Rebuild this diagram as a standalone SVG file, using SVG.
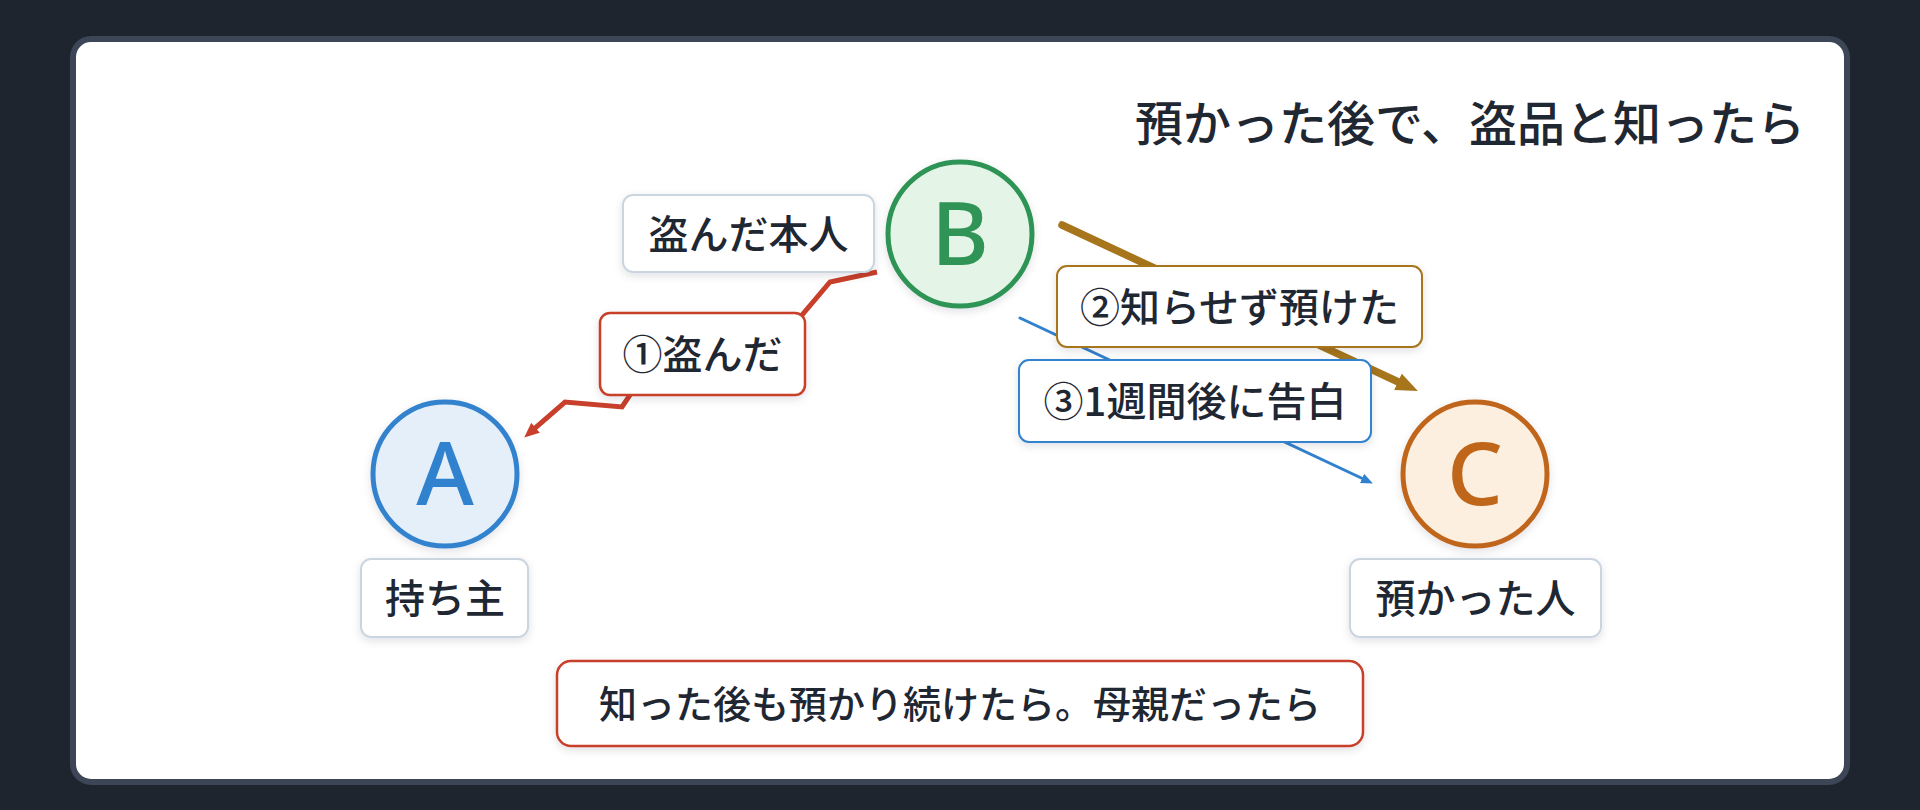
<svg xmlns="http://www.w3.org/2000/svg" width="1920" height="810" viewBox="0 0 1920 810">
  <defs>
    <style>
      .jp { font-family: "Noto Sans CJK JP", "Noto Sans", sans-serif; fill: #1f2733; font-weight: 500; }
      .lbl { font-size: 40px; text-anchor: middle; }
      .big { font-family: "Noto Sans", "Liberation Sans", sans-serif; font-size: 88px; font-weight: 500; text-anchor: middle; }
      .gbox { fill: #ffffff; stroke: #cbd5e0; stroke-width: 2; }
      .rbox { fill: #ffffff; stroke: #c8402b; stroke-width: 2.5; }
      .obox { fill: #ffffff; stroke: #a6751c; stroke-width: 2; }
      .bbox { fill: #ffffff; stroke: #3182ce; stroke-width: 2; }
    </style>
    <filter id="sh" x="-20%" y="-20%" width="140%" height="150%">
      <feDropShadow dx="0" dy="3" stdDeviation="4" flood-color="#1a202c" flood-opacity="0.12"/>
    </filter>
    <marker id="arR" markerUnits="userSpaceOnUse" markerWidth="15" markerHeight="13" refX="6" refY="6.5" orient="auto">
      <path d="M0,0 L15,6.5 L0,13 Z" fill="#c8402b"/>
    </marker>
    <marker id="arG" markerUnits="userSpaceOnUse" markerWidth="22" markerHeight="18" refX="10" refY="9" orient="auto">
      <path d="M0,0 L22,9 L0,18 Z" fill="#a6751c"/>
    </marker>
    <marker id="arB" markerUnits="userSpaceOnUse" markerWidth="12" markerHeight="10" refX="5" refY="5" orient="auto">
      <path d="M0,0 L12,5 L0,10 Z" fill="#3182ce"/>
    </marker>
  </defs>

  <rect x="0" y="0" width="1920" height="810" fill="#1e252f"/>
  <rect x="73" y="39" width="1774" height="743" rx="18" fill="#ffffff" stroke="#3c4656" stroke-width="6"/>

  <text class="jp" x="1805" y="141" font-size="48" text-anchor="end">預かった後で、盗品と知ったら</text>

  <g id="connectors">
    <path id="e-ba" d="M877,272 L830,282 L780,341 L650,365 L622,407 L565,402 L531,431.7" fill="none" stroke="#c8402b" stroke-width="5" stroke-linejoin="miter" marker-end="url(#arR)"/>
    <path id="e-bc2" d="M1062,225 L1407,386" fill="none" stroke="#a6751c" stroke-width="7.5" stroke-linecap="round" marker-end="url(#arG)"/>
    <path id="e-bc3" d="M1020,318 L1366.6,480.5" fill="none" stroke="#3182ce" stroke-width="3" stroke-linecap="round" marker-end="url(#arB)"/>
  </g>

  <g id="node-a">
    <circle cx="445" cy="474" r="72" fill="#e5effa" stroke="#3182ce" stroke-width="5" filter="url(#sh)"/>
    <text class="big" x="445" y="505" fill="#3182ce">A</text>
  </g>
  <g id="node-b">
    <circle cx="960" cy="234" r="72" fill="#e4f5e8" stroke="#2f9455" stroke-width="5" filter="url(#sh)"/>
    <text class="big" x="960" y="265" fill="#2f9455">B</text>
  </g>
  <g id="node-c">
    <circle cx="1475" cy="474" r="72" fill="#fdefdf" stroke="#c0661a" stroke-width="5" filter="url(#sh)"/>
    <text class="big" x="1475" y="505" fill="#c0661a">C</text>
  </g>

  <g id="label-a">
    <rect class="gbox" x="361" y="559" width="167" height="78" rx="10" filter="url(#sh)"/>
    <text class="jp lbl" x="445" y="613">持ち主</text>
  </g>
  <g id="label-b">
    <rect class="gbox" x="623" y="195" width="251" height="77" rx="10" filter="url(#sh)"/>
    <text class="jp lbl" x="748.5" y="249">盗んだ本人</text>
  </g>
  <g id="label-c">
    <rect class="gbox" x="1350" y="559" width="251" height="78" rx="10" filter="url(#sh)"/>
    <text class="jp lbl" x="1475.5" y="613">預かった人</text>
  </g>

  <g id="label-e1">
    <rect class="rbox" x="600" y="313" width="205" height="82" rx="10" filter="url(#sh)"/>
    <text class="jp lbl" x="702.5" y="369">①盗んだ</text>
  </g>
  <g id="label-e2">
    <rect class="obox" x="1057" y="266" width="365" height="81" rx="10" filter="url(#sh)"/>
    <text class="jp lbl" x="1239.5" y="322">②知らせず預けた</text>
  </g>
  <g id="label-e3">
    <rect class="bbox" x="1019" y="360" width="352" height="82" rx="10" filter="url(#sh)"/>
    <text class="jp lbl" x="1195" y="416">③1週間後に告白</text>
  </g>

  <g id="note">
    <rect class="rbox" x="557" y="661" width="806" height="85" rx="14" filter="url(#sh)"/>
    <text class="jp" x="960" y="718" font-size="38" text-anchor="middle">知った後も預かり続けたら。母親だったら</text>
  </g>
</svg>
